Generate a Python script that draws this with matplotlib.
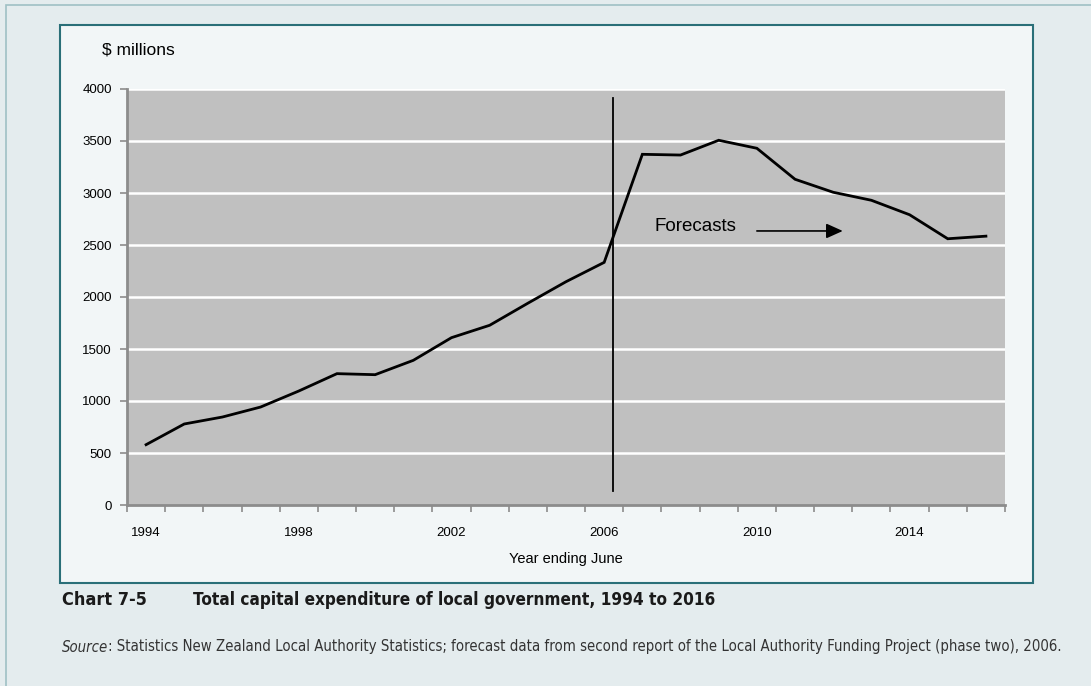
import matplotlib.pyplot as plt
from matplotlib.patches import Rectangle

# total capital expenditure of local government, $ millions (year ending June)
years = list(range(1994, 2017))
spend = [580, 779, 846, 942, 1096, 1263, 1253, 1391, 1609, 1728, 1940, 2147, 2333,
         3372, 3365, 3507, 3430, 3132, 3007, 2930, 2791, 2560, 2585]
year_labels = ["1994", "1998", "2002", "2006", "2010", "2014"]
y_ticks = [0, 500, 1000, 1500, 2000, 2500, 3000, 3500, 4000]

W, H = 1091, 686
fig = plt.figure(figsize=(W / 100, H / 100), dpi=100)
fig.patch.set_facecolor("#e4ecee")

# outer frame and inner panel, placed in pixel units
def px_rect(x0, y0, x1, y1, **kw):
    return Rectangle((x0 / W, 1 - y1 / H), (x1 - x0) / W, (y1 - y0) / H,
                     transform=fig.transFigure, zorder=-10, **kw)

fig.patches.append(px_rect(6, 5, 1095, 700, facecolor="#e4ecee", edgecolor="#9fc0c4", lw=1.2))
fig.patches.append(px_rect(60, 25, 1033, 583, facecolor="#f2f6f7", edgecolor="#2a6f78", lw=1.5))

ax = fig.add_axes([127 / W, 1 - 505 / H, 878 / W, 416 / H])
ax.set_zorder(2)
ax.set_facecolor("#c0c0c0")

x = list(range(len(years)))
ax.plot(x, spend, color="black", lw=2.0, solid_joinstyle="miter", zorder=4)

# split between actuals and forecasts
ax.plot([12.24, 12.24], [135, 3911], color="black", lw=1.3, zorder=5)
ax.text(14.4, 2676, "Forecasts", fontsize=13.5, ha="center", va="center",
        family="Liberation Sans", zorder=6)
ax.annotate("", xy=(18.25, 2635), xytext=(16.0, 2635),
            arrowprops=dict(arrowstyle="-|>,head_length=1.0,head_width=0.45",
                            color="black", lw=1.2, shrinkA=0, shrinkB=0), zorder=6)

ax.set_xlim(-0.5, len(years) - 0.5)
ax.set_ylim(0, 4000)
ax.set_yticks(y_ticks)
ax.set_yticklabels([str(v) for v in y_ticks], fontsize=9.5, family="Liberation Sans")
for v in y_ticks[1:]:
    ax.axhline(v, color="white", lw=1.8, zorder=1)

# ticks at category boundaries, labels at category centres
ax.set_xticks([i - 0.5 for i in range(len(years) + 1)])
ax.set_xticklabels([])
ax.set_xticks([0, 4, 8, 12, 16, 20], minor=True)
ax.set_xticklabels(year_labels, minor=True, fontsize=9.5, family="Liberation Sans")
ax.tick_params(axis="x", which="minor", length=0, pad=16)
ax.tick_params(axis="both", which="major", length=5, width=1.2, color="#8c8c8c",
               direction="out")
ax.tick_params(axis="y", pad=6)

for s in ["top", "right"]:
    ax.spines[s].set_visible(False)
for s in ["left", "bottom"]:
    ax.spines[s].set_color("#8c8c8c")
    ax.spines[s].set_linewidth(2)

ax.set_xlabel("Year ending June", fontsize=10.5, family="Liberation Sans", labelpad=9)
fig.text(102 / W, 1 - 50 / H, "$ millions", fontsize=12.5, family="Liberation Sans",
         va="center", ha="left")

cond = dict(family="DejaVu Sans", fontstretch="condensed")
fig.text(62 / W, 1 - 600 / H, "Chart 7-5", fontsize=13, fontweight="bold",
         va="center", color="#1a1a1a", **cond)
fig.text(193 / W, 1 - 600 / H, "Total capital expenditure of local government, 1994 to 2016",
         fontsize=12.3, fontweight="bold", va="center", color="#1a1a1a", **cond)

src = fig.text(62 / W, 1 - 647 / H, "Source", fontsize=10.7, style="italic",
               va="center", color="#333333", **cond)
fig.canvas.draw()
bb = src.get_window_extent()
fig.text(bb.x1 / W, 1 - 647 / H,
         ": Statistics New Zealand Local Authority Statistics; forecast data from second report "
         "of the Local Authority Funding Project (phase two), 2006.",
         fontsize=10.7, va="center", color="#333333", **cond)

fig.savefig("out.png", dpi=100, facecolor=fig.get_facecolor())
